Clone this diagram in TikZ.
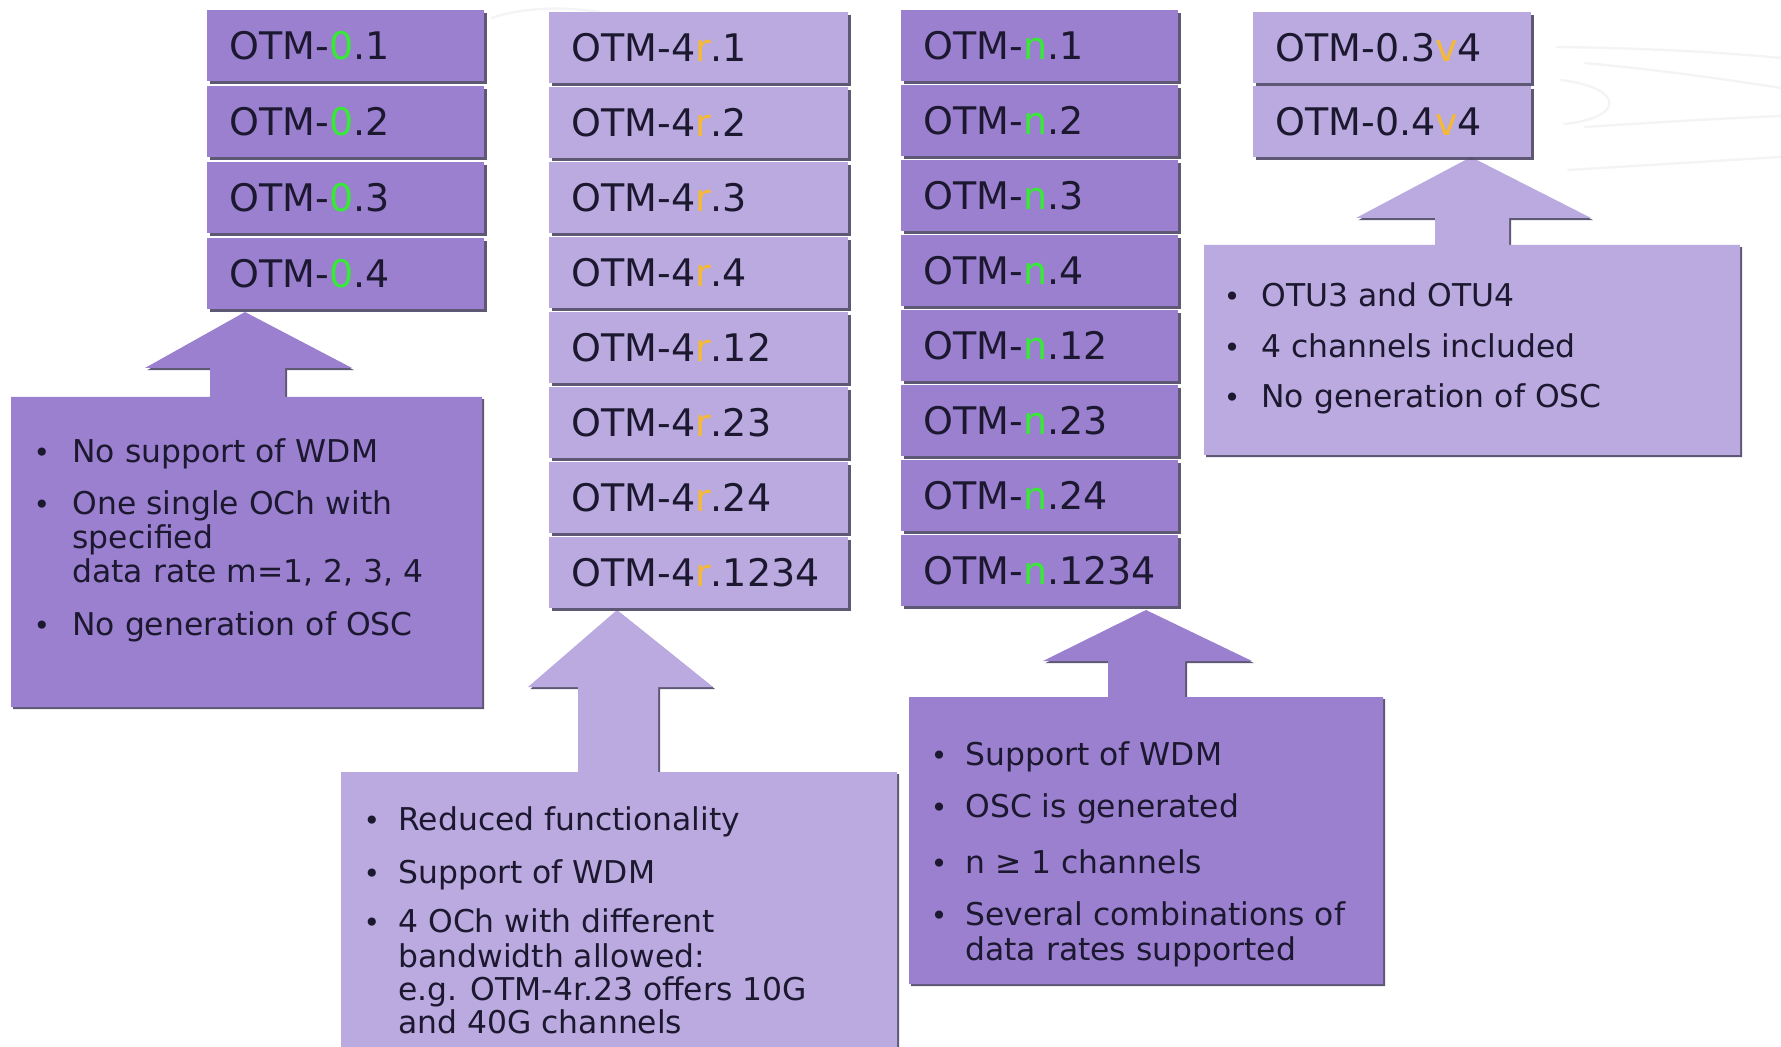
\documentclass[tikz,border=0pt]{standalone}
\usepackage{fontspec}
\setmainfont{DejaVu Sans}
\usetikzlibrary{shadows}

\definecolor{plumdark}{HTML}{9B80D0}
\definecolor{plumlight}{HTML}{BAAADF}
\definecolor{shade}{HTML}{4E4666}
\definecolor{ink}{HTML}{1C1830}
\definecolor{markgreen}{HTML}{36EA36}
\definecolor{markgold}{HTML}{F5B935}
\definecolor{swoosh}{HTML}{F4F4F6}

\newcommand\hl[2]{{\color{#1}#2}}

\begin{document}
\begin{tikzpicture}[x=0.5pt,y=-0.5pt,
  shadowed/.style={drop shadow={shadow xshift=1.1pt,shadow yshift=-1.1pt,fill=shade,opacity=0.9}},
  lbl/.style={shadowed,rectangle,anchor=north west,inner xsep=11pt,inner ysep=0pt,
    minimum height=35.5pt,align=left,text=ink,font=\fontsize{19}{22}\selectfont},
  col0/.style={lbl,fill=plumdark,minimum width=138.5pt,text width=116.5pt},
  col4r/.style={lbl,fill=plumlight,minimum width=149.5pt,text width=127.5pt},
  coln/.style={lbl,fill=plumdark,minimum width=138.5pt,text width=116.5pt},
  colv/.style={lbl,fill=plumlight,minimum width=139pt,text width=117pt},
  callshape/.style={shadowed},
  txt/.style={anchor=base west,inner sep=0pt,text=ink,font=\fontsize{15.7}{18}\selectfont},
  bul/.style={anchor=base,inner sep=0pt,text=ink,font=\fontsize{14}{18}\selectfont}
]
\useasboundingbox (0,0) rectangle (1781,1047);

% faint background swooshes
\begin{scope}[draw=swoosh,line width=1.2pt,line cap=round]
  \draw (1557,47) .. controls (1640,48) and (1720,52) .. (1781,58);
  \draw (1585,63) .. controls (1660,70) and (1730,80) .. (1781,88);
  \draw (1561,80) .. controls (1625,88) and (1625,118) .. (1564,124);
  \draw (1585,127) .. controls (1660,122) and (1730,118) .. (1781,116);
  \draw (1568,170) .. controls (1650,165) and (1730,160) .. (1781,157);
  \draw (492,18) .. controls (520,8) and (560,6) .. (600,12);
\end{scope}

% callout 1: OTM-0
\path[callshape,fill=plumdark] (11,397) -- (210,397) -- (210,368) -- (145,368) -- (245,312)
  -- (352,368) -- (285,368) -- (285,397) -- (482,397) -- (482,707) -- (11,707) -- cycle;
% callout 2: OTM-4r
\path[callshape,fill=plumlight] (341,772) -- (578,772) -- (578,687) -- (528,687) -- (617,610)
  -- (713,687) -- (658,687) -- (658,772) -- (897,772) -- (897,1060) -- (341,1060) -- cycle;
% callout 3: OTM-n
\path[callshape,fill=plumdark] (909,697) -- (1108,697) -- (1108,661) -- (1043,661) -- (1146,610)
  -- (1252,661) -- (1185,661) -- (1185,697) -- (1383,697) -- (1383,984) -- (909,984) -- cycle;
% callout 4: OTM-0.xv4
\path[callshape,fill=plumlight] (1204,245) -- (1435,245) -- (1435,218) -- (1356,218) -- (1471,157)
  -- (1591,218) -- (1509,218) -- (1509,245) -- (1740,245) -- (1740,455) -- (1204,455) -- cycle;

% column OTM-0
\foreach \t [count=\i] in {1,2,3,4}
  \node[col0] (z\i) at (207,{10+76*(\i-1)}) {OTM-\hl{markgreen}{0}.\t};
% column OTM-4r
\foreach \t [count=\i] in {1,2,3,4,12,23,24,1234}
  \node[col4r] (r\i) at (549,{12+75*(\i-1)}) {OTM-4\hl{markgold}{r}.\t};
% column OTM-n
\foreach \t [count=\i] in {1,2,3,4,12,23,24,1234}
  \node[coln] (n\i) at (901,{10+75*(\i-1)}) {OTM-\hl{markgreen}{n}.\t};
% column OTM-0.xv4
\node[colv] (v1) at (1253,12) {OTM-0.3\hl{markgold}{v}4};
\node[colv] (v2) at (1253,86) {OTM-0.4\hl{markgold}{v}4};

% text of callout 1
\node[bul] (p1a) at (42,463) {•};
\node[txt] (t1a) at (72,463) {No support of WDM};
\node[bul] (p1b) at (42,515) {•};
\node[txt] (t1b) at (72,515) {One single OCh with};
\node[txt] (t1c) at (72,548) {specified};
\node[txt] (t1d) at (72,582) {data rate m=1, 2, 3, 4};
\node[bul] (p1e) at (42,635) {•};
\node[txt] (t1e) at (72,635) {No generation of OSC};

% text of callout 2
\node[bul] (p2a) at (372,830) {•};
\node[txt] (t2a) at (398,830) {Reduced functionality};
\node[bul] (p2b) at (372,883) {•};
\node[txt] (t2b) at (398,883) {Support of WDM};
\node[bul] (p2c) at (372,932) {•};
\node[txt] (t2c) at (398,932) {4 OCh with different};
\node[txt] (t2d) at (398,967) {bandwidth allowed:};
\node[txt] (t2e) at (398,1000) {e.g. OTM-4r.23 offers 10G};
\node[txt] (t2f) at (398,1033) {and 40G channels};

% text of callout 3
\node[bul] (p3a) at (939,765) {•};
\node[txt] (t3a) at (965,765) {Support of WDM};
\node[bul] (p3b) at (939,817) {•};
\node[txt] (t3b) at (965,817) {OSC is generated};
\node[bul] (p3c) at (939,873) {•};
\node[txt] (t3c) at (965,873) {n ≥ 1 channels};
\node[bul] (p3d) at (939,925) {•};
\node[txt] (t3d) at (965,925) {Several combinations of};
\node[txt] (t3e) at (965,960) {data rates supported};

% text of callout 4
\node[bul] (p4a) at (1232,307) {•};
\node[txt] (t4a) at (1261,307) {OTU3 and OTU4};
\node[bul] (p4b) at (1232,358) {•};
\node[txt] (t4b) at (1261,358) {4 channels included};
\node[bul] (p4c) at (1232,408) {•};
\node[txt] (t4c) at (1261,408) {No generation of OSC};
\end{tikzpicture}
\end{document}
